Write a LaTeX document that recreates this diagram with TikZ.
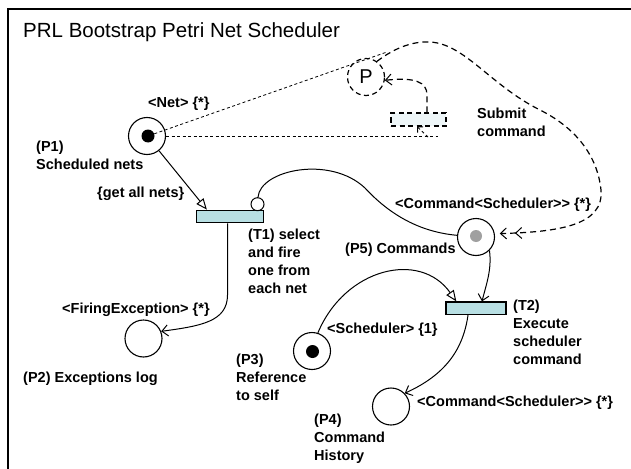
\documentclass[tikz,border=0pt]{standalone}
\usepackage{fontspec}
\setmainfont[Ligatures=NoCommon]{Liberation Sans}
\usetikzlibrary{arrows.meta,calc}
\definecolor{tfill}{HTML}{B8DFE3}
\definecolor{gfill}{HTML}{EEF6F8}
\definecolor{tokgrey}{HTML}{A0A0A0}
\newcommand{\mlines}[1]{\begin{tabular}[t]{@{}l@{}}#1\end{tabular}}
\begin{document}
\begin{tikzpicture}[x=1pt,y=-1pt,
 place/.style={circle,draw,line width=1.1pt,minimum size=37pt,inner sep=0pt,fill=white},
 trans/.style={rectangle,draw,line width=1.3pt,fill=tfill,minimum height=12.5pt,inner sep=0pt},
 tok/.style={circle,fill=black,minimum size=13pt,inner sep=0pt},
 lbl/.style={font=\fontsize{14.5}{18}\selectfont\bfseries,inner sep=0pt,anchor=base west},
 arc/.style={line width=1pt},
 vtip/.style={-{Straight Barb[length=6pt,width=11pt,line width=1pt]}},
 ttip/.style={-{Triangle[open,length=11pt,width=9pt,line width=1pt]}},
 ghost/.style={dash pattern=on 6pt off 4pt,line width=1.2pt},
 thindash/.style={dash pattern=on 3pt off 2.5pt,line width=0.8pt},
]
\useasboundingbox (0,0) rectangle (631,468);
\clip (0,0) rectangle (631,468);
\fill[white] (0,0) rectangle (631,468);
\draw[line width=2.5pt] (8,9) rectangle (660,500);

\node[anchor=base west,inner sep=0pt,font=\fontsize{20.5}{24}\selectfont] (title) at (23,38) {PRL Bootstrap Petri Net Scheduler};

% places
\node[place] (P1) at (147,136) {};
\node[tok] (P1t) at (148,136) {};
\node[place] (P2) at (143.5,338.5) {};
\node[place] (P3) at (312,351) {};
\node[tok] (P3t) at (312.5,351.5) {};
\node[place] (P4) at (391,406.5) {};
\node[place] (P5) at (476,237) {};
\node[circle,fill=tokgrey,minimum size=12pt,inner sep=0pt] (P5t) at (476,236) {};

% transitions
\node[trans,minimum width=67pt] (T1) at (230,216.5) {};
\node[trans,minimum width=60pt] (T2) at (476,308.3) {};
\node[circle,draw,line width=1pt,fill=white,minimum size=13pt,inner sep=0pt] (T1r) at (257.5,204.2) {};

% ghost elements
\node[place,dash pattern=on 5pt off 3.5pt,line width=1.2pt,font=\fontsize{20}{24}\selectfont] (GP) at (366,77) {P};
\node[rectangle,draw,dash pattern=on 5pt off 3.5pt,line width=1.2pt,fill=gfill,minimum width=55pt,minimum height=13pt,inner sep=0pt] (GT) at (418.5,119.5) {};
\coordinate (tanEnd) at (387,52);
\coordinate (hEnd) at (438,137);
\coordinate (hk) at (428,137);

% connectors
\draw[arc,ttip] (P1) -- ($(T1.north west)+(11,0)$);
\draw[arc] (T1r) .. controls (260,170) and (330,155) .. (365,188) .. controls (390,215) and (420,232) .. (P5);
\draw[arc,vtip] ($(T1.south)+(-2.5,0)$) -- (227.5,295) .. controls (227.5,322) and (200,326) .. (P2.22);
\draw[arc,ttip] (P3.72) .. controls (345,268) and (420,250) .. ($(T2.north west)+(11,0)$);
\draw[arc,vtip] (P5.-45) .. controls (492,270) and (486,285) .. ($(T2.north)+(6,0)$);
\draw[arc,vtip] ($(T2.south)+(-8,0)$) .. controls (463,350) and (445,375) .. (P4.44);

\draw[thindash] (P1t) -- (tanEnd);
\draw[thindash] (P1.east) -- (P1.east -| hEnd);
\draw[thindash,-{Straight Barb[length=4pt,width=8pt,line width=0.9pt]}] (hk) -- ($(GT.south)+(-1.5,0)$);
\draw[ghost,vtip] ($(GT.north)+(8.5,0)$) -- (427,95) .. controls (427,82) and (415,77) .. (GP.-10);
\draw[ghost,shorten >=5pt,-{Straight Barb[length=6pt,width=11pt,line width=1pt,sep=8pt]Straight Barb[length=6pt,width=11pt,line width=1pt]}]
  (GP.55) .. controls (392,50) and (410,41) .. (430,42)
  .. controls (465,44) and (490,85) .. (540,110)
  .. controls (580,130) and (598,160) .. (601,190)
  .. controls (604,225) and (560,232) .. (P5.10);

% labels
\node[lbl] (LNet) at (148,108) {<Net> \{*\}};
\node[lbl] (LP1) at (36,151) {\mlines{(P1)\\Scheduled nets}};
\node[lbl] (Lget) at (97,197) {\{get all nets\}};
\node[lbl] (LT1) at (248,239) {\mlines{(T1) select\\and fire\\one from\\each net}};
\node[lbl] (LFE) at (62,313) {<FiringException> \{*\}};
\node[lbl] (LP2) at (23,382) {(P2) Exceptions log};
\node[lbl] (LCS1) at (395,208) {<Command<Scheduler>{}> \{*\}};
\node[lbl] (LP5) at (345,253) {(P5) Commands};
\node[lbl] (LSch) at (327,333) {<Scheduler> \{1\}};
\node[lbl] (LP3) at (236,364) {\mlines{(P3)\\Reference\\to self}};
\node[lbl] (LT2) at (513,310) {\mlines{(T2)\\Execute\\scheduler\\command}};
\node[lbl] (LCS2) at (417,406) {<Command<Scheduler>{}> \{*\}};
\node[lbl] (LP4) at (314,424) {\mlines{(P4)\\Command\\History}};
\node[lbl] (LSub) at (477,118) {\mlines{Submit\\command}};
\end{tikzpicture}
\end{document}
